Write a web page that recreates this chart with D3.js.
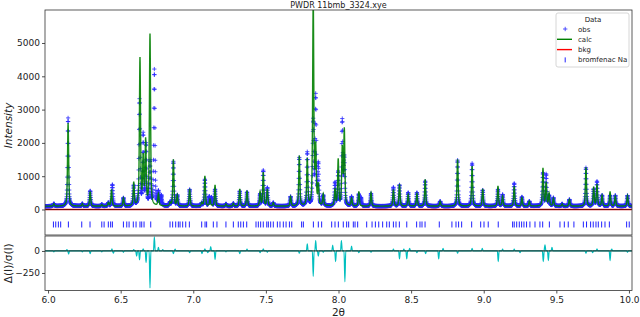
<!DOCTYPE html>
<html>
<head>
<meta charset="utf-8">
<script src="https://cdn.jsdelivr.net/npm/d3@7/dist/d3.min.js"></script>
<style>
body { margin: 0; background: #fff; }
svg { display: block; font-family: "DejaVu Sans", sans-serif; }
</style>
</head>
<body>
<svg id="chart" width="640" height="317"></svg>
<script>
// values
const plotTitle = "PWDR 11bmb_3324.xye";
const bkgLevel = 100;      // flat baseline under the peaks (counts)
const bkgLine = [[5.98, 0], [10.02, 0]];

// observed peaks: 2theta and apex intensity
const obsPeakPos = [6.040, 6.138, 6.236, 6.290, 6.370, 6.415, 6.443, 6.519, 6.590, 6.630,
  6.655, 6.675, 6.702, 6.732, 6.760, 6.780, 6.840, 6.863, 6.890, 6.975,
  7.058, 7.080, 7.110, 7.125, 7.150, 7.225, 7.276, 7.320, 7.370, 7.460,
  7.482, 7.510, 7.551, 7.670, 7.730, 7.785, 7.826, 7.843, 7.861, 7.895,
  7.976, 7.998, 8.026, 8.040, 8.090, 8.140, 8.155, 8.224, 8.378, 8.420,
  8.480, 8.540, 8.597, 8.700, 8.820, 8.920, 8.993, 9.098, 9.130, 9.210,
  9.263, 9.314, 9.408, 9.430, 9.450, 9.480, 9.540, 9.590, 9.704, 9.757,
  9.780, 9.815, 9.870, 9.906, 9.990];
const obsPeakHeight = [170, 2750, 170, 560, 150, 200, 750, 345, 700, 3270,
  2200, 1900, 1400, 4180, 500, 400, 200, 1435, 420, 600,
  180, 900, 375, 350, 600, 165, 180, 550, 520, 450,
  1165, 645, 200, 385, 1550, 1700, 2600, 3350, 1300, 400,
  785, 1100, 2640, 1500, 375, 450, 345, 480, 665, 735,
  505, 505, 850, 245, 1480, 1385, 580, 600, 445, 785,
  375, 245, 1085, 1040, 400, 345, 165, 300, 1250, 600,
  835, 420, 420, 420, 420];

// calculated peaks
const calcPeakPos = [6.040, 6.138, 6.236, 6.290, 6.370, 6.415, 6.437, 6.519, 6.590, 6.633,
  6.655, 6.672, 6.702, 6.760, 6.840, 6.863, 6.890, 6.975, 7.058, 7.080,
  7.115, 7.150, 7.225, 7.276, 7.320, 7.370, 7.460, 7.482, 7.510, 7.551,
  7.670, 7.730, 7.785, 7.826, 7.843, 7.861, 7.895, 7.976, 7.998, 8.026,
  8.040, 8.090, 8.140, 8.224, 8.378, 8.420, 8.480, 8.540, 8.597, 8.700,
  8.820, 8.920, 8.993, 9.098, 9.130, 9.210, 9.263, 9.314, 9.408, 9.430,
  9.450, 9.480, 9.540, 9.590, 9.704, 9.757, 9.780, 9.815, 9.870, 9.906,
  9.990];
const calcPeakHeight = [170, 2600, 170, 540, 150, 200, 600, 345, 800, 4520,
  1500, 2020, 5240, 450, 200, 1500, 420, 615, 200, 1005,
  300, 735, 165, 180, 615, 565, 515, 1105, 600, 200,
  385, 1605, 1500, 6300, 1800, 700, 445, 600, 1485, 1800,
  2370, 330, 535, 505, 600, 760, 450, 470, 905, 245,
  1505, 1300, 615, 705, 400, 700, 350, 245, 1235, 800,
  475, 330, 165, 300, 1265, 665, 750, 420, 535, 400,
  420];

// reflection positions of bromfenac Na
const reflPos = [6.037, 6.053, 6.071, 6.087, 6.140, 6.232, 6.289, 6.370, 6.386, 6.415,
  6.431, 6.443, 6.519, 6.542, 6.558, 6.587, 6.606, 6.633, 6.645, 6.661,
  6.707, 6.840, 6.858, 6.879, 6.897, 6.909, 6.927, 6.948, 6.973, 7.058,
  7.081, 7.092, 7.138, 7.163, 7.225, 7.276, 7.310, 7.327, 7.345, 7.368,
  7.432, 7.448, 7.464, 7.482, 7.506, 7.517, 7.533, 7.551, 7.579, 7.597,
  7.620, 7.639, 7.662, 7.678, 7.746, 7.758, 7.827, 7.861, 7.884, 7.953,
  7.976, 7.999, 8.033, 8.056, 8.070, 8.102, 8.114, 8.132, 8.194, 8.231,
  8.254, 8.277, 8.304, 8.332, 8.350, 8.378, 8.396, 8.419, 8.470, 8.538,
  8.561, 8.575, 8.596, 8.694, 8.781, 8.809, 8.827, 8.848, 8.917, 8.979,
  9.002, 9.031, 9.100, 9.199, 9.210, 9.227, 9.245, 9.261, 9.277, 9.295,
  9.318, 9.353, 9.387, 9.406, 9.452, 9.525, 9.555, 9.582, 9.621, 9.686,
  9.708, 9.736, 9.754, 9.773, 9.789, 9.812, 9.835, 9.865, 9.984, 10.002];

// difference curve features, delta(I)/sigma(I)
const diffPos = [6.040, 6.130, 6.142, 6.236, 6.290, 6.370, 6.440, 6.450, 6.519, 6.590,
  6.610, 6.630, 6.655, 6.675, 6.702, 6.732, 6.760, 6.790, 6.863, 6.875,
  6.975, 7.060, 7.080, 7.100, 7.120, 7.150, 7.225, 7.320, 7.370, 7.460,
  7.482, 7.510, 7.730, 7.785, 7.826, 7.843, 7.861, 7.895, 7.960, 7.980,
  8.020, 8.044, 8.090, 8.140, 8.224, 8.378, 8.420, 8.450, 8.470, 8.490,
  8.540, 8.600, 8.690, 8.720, 8.820, 8.920, 8.990, 9.100, 9.130, 9.210,
  9.250, 9.410, 9.422, 9.445, 9.470, 9.704, 9.750, 9.780, 9.870, 9.882,
  9.990];
const diffVal = [-10, 15, -35, -10, -30, -10, 25, -25, -15, 15,
  -60, -100, 25, -130, -420, 160, 40, 15, -30, 20,
  -20, -30, 25, -20, 50, -95, -10, -30, 20, -20,
  25, -15, -25, 80, -290, 117, -60, -15, 68, -120,
  117, -350, 55, -20, -15, 20, -90, 20, -90, 30,
  -20, -30, -90, 30, -25, 30, 30, -120, 20, 20,
  -20, -120, 70, -110, 40, -25, -20, 25, -110, 20,
  -15];

const xTicks = [6.0, 6.5, 7.0, 7.5, 8.0, 8.5, 9.0, 9.5, 10.0];
const yTicks = [0, 1000, 2000, 3000, 4000, 5000];
const diffTicks = [0, -250];
const legendLabels = ["obs", "calc", "bkg", "bromfenac Na"];

// layout
const left = 45, right = 632;
const top1 = 10, bot1 = 235, top2 = 236, bot2 = 290.5;

const svg = d3.select("#chart");

const x = d3.scaleLinear().domain([5.979, 10.021]).range([left, right]);
const y = d3.scaleLinear().domain([-766, 5991]).range([bot1, top1]);
const yd = d3.scaleLinear().domain([-449, 170]).range([bot2, top2]);

// peak shape used to draw each peak from its position and height
const fwhm = 0.009, eta = 0.55;
function shape(dx) {
    const t = 2 * dx / fwhm;
    return eta / (1 + t * t) + (1 - eta) * Math.exp(-Math.LN2 * t * t);
}
function profile(tt, pos, hts) {
    let v = bkgLevel;
    for (let i = 0; i < pos.length; i++) {
        const dx = tt - pos[i];
        if (Math.abs(dx) < 0.15) v += (hts[i] - bkgLevel) * shape(dx);
    }
    return v;
}

const step = 0.001;
const grid = d3.range(5.98, 10.0205, step);
const obsPts = grid.map(t => [t, profile(t, obsPeakPos, obsPeakHeight)]);
const calcPts = grid.map(t => [t, profile(t, calcPeakPos, calcPeakHeight)]);

svg.append("clipPath").attr("id", "clip1")
    .append("rect").attr("x", left).attr("y", top1)
    .attr("width", right - left).attr("height", bot1 - top1);
svg.append("clipPath").attr("id", "clip2")
    .append("rect").attr("x", left).attr("y", top2)
    .attr("width", right - left).attr("height", bot2 - top2);

const g1 = svg.append("g").attr("clip-path", "url(#clip1)");

// obs as + markers
let mk = "";
obsPts.forEach(function(d) {
    const px = x(d[0]), py = y(d[1]);
    mk += `M${(px - 2.1).toFixed(2)},${py.toFixed(2)}h4.2M${px.toFixed(2)},${(py - 2.1).toFixed(2)}v4.2`;
});
g1.append("path").attr("d", mk)
    .attr("fill", "none").attr("stroke", "#2a2aff").attr("stroke-width", 0.8);

// calc line
g1.append("path").datum(calcPts)
    .attr("d", d3.line().x(d => x(d[0])).y(d => y(d[1])))
    .attr("fill", "none").attr("stroke", "#008000").attr("stroke-width", 1.4)
    .attr("stroke-opacity", 0.9);

// bkg
g1.append("path").datum(bkgLine)
    .attr("d", d3.line().x(d => x(d[0])).y(d => y(d[1])))
    .attr("stroke", "#d01010").attr("stroke-width", 1.4);
g1.append("path").datum(bkgLine)
    .attr("d", d3.line().x(d => x(d[0])).y(d => y(d[1])))
    .attr("stroke", "#000").attr("stroke-width", 0.8).attr("stroke-opacity", 0.6);

// reflection ticks
g1.selectAll(".refl")
    .data(reflPos)
    .enter()
    .append("line")
    .attr("class", "refl")
    .attr("x1", d => x(d)).attr("x2", d => x(d))
    .attr("y1", y(-450) - 3).attr("y2", y(-450) + 3)
    .attr("stroke", "#2020ff").attr("stroke-width", 1);

// difference panel
const diffPts = [[5.98, 0]];
const hw = 0.006;
diffPos.forEach(function(p, i) {
    const prev = diffPts[diffPts.length - 1][0];
    if (p - hw > prev) diffPts.push([p - hw, 0]);
    diffPts.push([p, diffVal[i]]);
    const next = i < diffPos.length - 1 ? diffPos[i + 1] : 10.03;
    if (p + hw < next - hw) diffPts.push([p + hw, 0]);
});
diffPts.push([10.02, 0]);

const g2 = svg.append("g").attr("clip-path", "url(#clip2)");
g2.append("path").datum(diffPts)
    .attr("d", d3.line().x(d => x(d[0])).y(d => yd(d[1])).curve(d3.curveMonotoneX))
    .attr("fill", "none").attr("stroke", "#00bfbf").attr("stroke-width", 1.2);
g2.append("line")
    .attr("x1", left).attr("x2", right)
    .attr("y1", yd(0)).attr("y2", yd(0))
    .attr("stroke", "#1c2a24").attr("stroke-width", 1.3).attr("stroke-opacity", 0.85);

// axes
function styleAxis(sel) {
    sel.select(".domain").remove();
    sel.selectAll("line").attr("stroke", "#222").attr("stroke-width", 0.8);
    sel.selectAll("text").attr("fill", "#222").style("font-size", "9px")
        .style("font-family", "DejaVu Sans, sans-serif");
}

svg.append("g")
    .attr("transform", `translate(${left},0)`)
    .call(d3.axisLeft(y).tickValues(yTicks).tickFormat(d3.format("d")).tickSize(3).tickPadding(2))
    .call(styleAxis);

svg.append("g")
    .attr("transform", `translate(${left},0)`)
    .call(d3.axisLeft(yd).tickValues(diffTicks).tickFormat(d => d < 0 ? "\u2212" + Math.abs(d) : d).tickSize(3).tickPadding(2))
    .call(styleAxis);

svg.append("g")
    .attr("transform", `translate(0,${bot2})`)
    .call(d3.axisBottom(x).tickValues(xTicks).tickFormat(d3.format(".1f")).tickSize(3).tickPadding(3))
    .call(styleAxis);

// frames
[[top1, bot1], [top2, bot2]].forEach(function(r) {
    svg.append("rect")
        .attr("x", left).attr("y", r[0])
        .attr("width", right - left).attr("height", r[1] - r[0])
        .attr("fill", "none").attr("stroke", "#333").attr("stroke-width", 0.8);
});

// titles and labels
svg.append("text")
    .attr("x", (left + right) / 2).attr("y", 7.5)
    .attr("text-anchor", "middle")
    .style("font-size", "8px").attr("fill", "#222")
    .text(plotTitle);

svg.append("text")
    .attr("transform", `translate(12, ${(top1 + bot1) / 2 + 3}) rotate(-90)`)
    .attr("text-anchor", "middle")
    .style("font-size", "10.5px").style("font-style", "italic").attr("fill", "#222")
    .text("Intensity");

svg.append("text")
    .attr("transform", `translate(12, ${(top2 + bot2) / 2}) rotate(-90)`)
    .attr("text-anchor", "middle")
    .style("font-size", "10.5px").attr("fill", "#222")
    .text("\u0394(I)/\u03c3(I)");

svg.append("text")
    .attr("x", (left + right) / 2).attr("y", 316)
    .attr("text-anchor", "middle")
    .style("font-size", "10.5px").attr("fill", "#222")
    .text("2\u03b8");

// legend
const lg = svg.append("g").attr("transform", "translate(556,13)");
lg.append("rect")
    .attr("width", 73).attr("height", 54).attr("rx", 2)
    .attr("fill", "#fff").attr("fill-opacity", 0.8)
    .attr("stroke", "#ccc").attr("stroke-width", 0.8);
lg.append("text")
    .attr("x", 37).attr("y", 8.5)
    .attr("text-anchor", "middle")
    .style("font-size", "7px").attr("fill", "#222")
    .text("Data");

const legendRow = 10.3;
legendLabels.forEach(function(label, i) {
    const cy = 16 + i * legendRow;
    const item = lg.append("g").attr("transform", `translate(0,${cy})`);
    if (i === 0) {
        item.append("path").attr("d", "M7,0h4.4M9.2,-2.2v4.4")
            .attr("stroke", "#2a2aff").attr("stroke-width", 0.8);
    } else if (i === 1) {
        item.append("line").attr("x1", 1).attr("x2", 16)
            .attr("stroke", "#008000").attr("stroke-width", 1.4);
    } else if (i === 2) {
        item.append("line").attr("x1", 1).attr("x2", 16)
            .attr("stroke", "#ff0000").attr("stroke-width", 1.4);
    } else {
        item.append("line").attr("x1", 9.2).attr("x2", 9.2).attr("y1", -2.5).attr("y2", 2.5)
            .attr("stroke", "#2020ff").attr("stroke-width", 1);
    }
    item.append("text")
        .attr("x", 22).attr("y", 2.5)
        .style("font-size", "7px").attr("fill", "#222")
        .text(label);
});
</script>
</body>
</html>
